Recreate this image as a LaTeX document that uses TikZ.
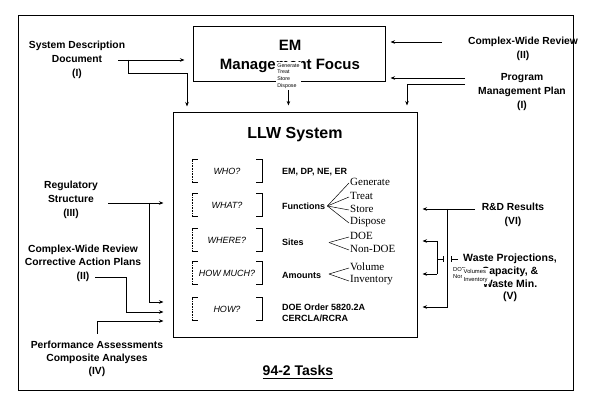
\documentclass[tikz,border=0pt]{standalone}
\usepackage{fontspec}
\setmainfont{Liberation Sans}
\newfontfamily\serifw{Liberation Serif}
\usetikzlibrary{arrows.meta,calc}
\begin{document}
\begin{tikzpicture}[x=1pt,y=-1pt,
  lbl/.style={font=\fontsize{10.3}{14}\selectfont\bfseries, align=center, inner sep=0pt},
  arr/.style={-{Stealth[length=4.5pt,width=3.5pt]}, line width=0.7pt},
  conn/.style={line width=0.7pt},
  bigbox/.style={draw, line width=1pt, inner sep=0pt},
  qbox/.style={minimum width=70pt, minimum height=22pt, inner sep=0pt, font=\fontsize{9}{11}\selectfont\itshape},
  ans/.style={anchor=west, inner sep=0pt, font=\fontsize{9}{11}\selectfont\bfseries, align=left},
  word/.style={anchor=west, inner sep=1pt, font=\serifw\fontsize{11}{13}\selectfont},
  tiny/.style={fill=white, inner sep=1.2pt, align=left, font=\fontsize{5.3}{6.8}\selectfont}
]
\useasboundingbox (0,0) rectangle (590,409);
\fill[white] (0,0) rectangle (590,409);
\draw[line width=1pt] (18,16) rectangle (573,390);

% main boxes
\node[bigbox, minimum width=192pt, minimum height=55pt] (em) at (289,54.5) {};
\node[inner sep=0pt, font=\fontsize{15}{17}\selectfont\bfseries] (emt) at (290,45) {EM};
\node[inner sep=0pt, font=\fontsize{15}{17}\selectfont\bfseries] (emm) at (290,66) {Management Focus};
\node[tiny, anchor=north west] (emf) at (276,62) {Generate\\Treat\\Store\\Dispose};

\node[bigbox, minimum width=244pt, minimum height=225pt] (llw) at (295,225.5) {};
\node[inner sep=0pt, font=\fontsize{16}{18}\selectfont\bfseries] (llwt) at (295,135) {LLW System};

% question rows
\node[qbox] (q1) at (227,171) {WHO?};
\node[qbox] (q2) at (227,205) {WHAT?};
\node[qbox] (q3) at (227,240) {WHERE?};
\node[qbox] (q4) at (227,273) {HOW MUCH?};
\node[qbox] (q5) at (227,309) {HOW?};
\foreach \n in {q1,q2,q3,q4,q5}{
  \draw[line width=0.6pt] ([xshift=6pt]\n.north west) -- (\n.north west);
  \draw[line width=0.6pt, densely dotted] (\n.north west) -- (\n.south west);
  \draw[line width=0.6pt] (\n.south west) -- ([xshift=6pt]\n.south west);
  \draw[line width=0.6pt] ([xshift=-6pt]\n.north east) -- (\n.north east) -- (\n.south east) -- ([xshift=-6pt]\n.south east);
}

\node[ans] (a1) at (282,172) {EM, DP, NE, ER};
\node[ans] (a2) at (282,206) {Functions};
\node[ans] (a3) at (282,242) {Sites};
\node[ans] (a4) at (282,275) {Amounts};
\node[ans] (a5) at (282,313) {DOE Order 5820.2A\\CERCLA/RCRA};

\node[word] (f1) at (349,182) {Generate};
\node[word] (f2) at (349,196) {Treat};
\node[word] (f3) at (349,209) {Store};
\node[word] (f4) at (349,222) {Dispose};
\coordinate (fv) at ([xshift=2pt]a2.east);
\foreach \w in {f1,f2,f3,f4} \draw[line width=0.5pt] (fv) -- ([yshift=-1pt]\w.west);

\node[word] (s1) at (349,236) {DOE};
\node[word] (s2) at (349,249) {Non-DOE};
\coordinate (sv) at (329,242.5);
\foreach \w in {s1,s2} \draw[line width=0.5pt] (sv) -- ([yshift=-1pt]\w.west);

\node[word] (m1) at (349,267) {Volume};
\node[word] (m2) at (349,280) {Inventory};
\coordinate (mv) at (329,274);
\foreach \w in {m1,m2} \draw[line width=0.5pt] (mv) -- ([yshift=-1pt]\w.west);

\node[inner sep=0pt, font=\fontsize{14}{16}\selectfont\bfseries] (tasks) at (298,370) {94-2 Tasks};
\draw[line width=1.2pt] ([yshift=-3pt]tasks.south west) -- ([yshift=-3pt]tasks.south east);

% external labels
\node[lbl] (sdd) at (77,60) {System Description\\Document\\(I)};
\node[lbl] (cwr) at (523,49) {Complex-Wide Review\\(II)};
\node[lbl] (pmp) at (522,92) {Program\\Management Plan\\(I)};
\node[lbl] (reg) at (71,200) {Regulatory\\Structure\\(III)};
\node[lbl, font=\fontsize{10.3}{13.5}\selectfont\bfseries] (cap) at (83,263) {Complex-Wide Review\\Corrective Action Plans\\(II)};
\node[lbl, font=\fontsize{10.3}{13}\selectfont\bfseries] (pa) at (97,359) {Performance Assessments\\Composite Analyses\\(IV)};
\node[lbl] (rd) at (513,215) {R\&D Results\\(VI)};
\node[lbl, font=\fontsize{10.5}{12.8}\selectfont\bfseries] (waste) at (510,278) {Waste Projections,\\Capacity, \&\\Waste Min.\\(V)};

% overlays on waste label
\node[tiny, anchor=north west, inner sep=1pt, font=\fontsize{5.8}{7.2}\selectfont] (wdoe) at (452,266) {DOE\\Non-DOE};
\node[tiny, anchor=north west, inner sep=1.5pt, font=\fontsize{5.8}{7.2}\selectfont] (wvol) at (462,268) {Volumes\\Inventory};

% connectors top-left
\draw[arr, shorten >=8pt] ([xshift=-7pt]sdd.east) -- (sdd.east -| em.west);
\coordinate (c2) at (187,73);
\draw[arr, shorten >=6pt] ([xshift=3pt]sdd.east) |- (c2) -- (c2 |- llw.north);
\draw[arr, shorten >=7pt] (emf.south) -- (emf.south |- llw.north);

% top-right
\coordinate (cwrA) at (442,42);
\draw[arr, shorten >=5pt] (cwrA) -- (cwrA -| em.east);
\coordinate (pmpA) at (465,78);
\draw[arr, shorten >=5pt] (pmpA) -- (pmpA -| em.east);
\coordinate (pmpB) at (465,84);
\coordinate (pmpC) at (407,84);
\draw[arr, shorten >=7pt] (pmpB) -- (pmpC) -- (pmpC |- llw.north);

% left
\coordinate (regA) at (108,203);
\draw[arr, shorten >=9pt] (regA) -- (regA -| llw.west);
\coordinate (regB) at (149,203);
\coordinate (regC) at (149,302);
\draw[arr, shorten >=9pt] (regB) -- (regC) -- (regC -| llw.west);
\coordinate (capA) at (95,277);
\coordinate (capB) at (126,277);
\coordinate (capC) at (126,312);
\draw[arr, shorten >=9pt] (capA) -- (capB) -- (capC) -- (capC -| llw.west);
\coordinate (paA) at (97,334);
\coordinate (paB) at (97,321);
\draw[arr, shorten >=9pt] (paA) -- (paB) -- (paB -| llw.west);

% right
\coordinate (rdA) at (475,209);
\draw[arr, shorten >=5pt] (rdA) -- (rdA -| llw.east);
\coordinate (rdB) at (447,209);
\coordinate (rdC) at (447,307);
\draw[arr, shorten >=5pt] (rdB) -- (rdC) -- (rdC -| llw.east);

\coordinate (wA) at (458,259);
\coordinate (wB) at (451,259);
\coordinate (wC) at (443,259);
\coordinate (wD) at (437,259);
\draw[conn] (wA) -- (wB);
\draw[conn] ([yshift=-3pt]wB) -- ([yshift=3pt]wB);
\draw[conn] (wC) -- (wD);
\draw[conn] ([yshift=-3pt]wC) -- ([yshift=3pt]wC);
\coordinate (wE) at (437,241);
\coordinate (wF) at (437,274);
\draw[conn] (wE) -- (wF);
\draw[arr, shorten >=5pt] (wE) -- (wE -| llw.east);
\draw[arr, shorten >=5pt] (wF) -- (wF -| llw.east);
\end{tikzpicture}
\end{document}
